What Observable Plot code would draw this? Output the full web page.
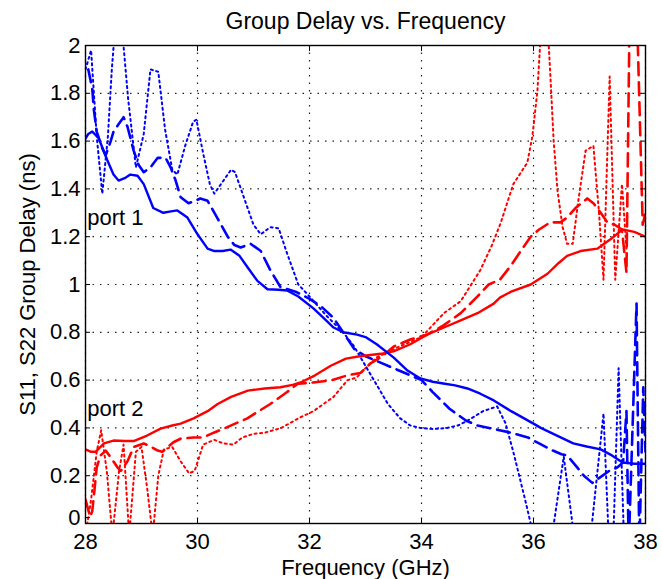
<!DOCTYPE html>
<html><head><meta charset="utf-8">
<script src="https://cdn.jsdelivr.net/npm/d3@7"></script>
<script src="https://cdn.jsdelivr.net/npm/@observablehq/plot@0.6"></script>
<style>body{margin:0;background:#fff}</style>
</head><body><div id="chart"></div>
<script>
const xTicks = [28, 30, 32, 34, 36, 38];
const yTicks = [0, 0.2, 0.4, 0.6, 0.8, 1, 1.2, 1.4, 1.6, 1.8, 2];
const titleText = "Group Delay vs. Frequency";
const xLabel = "Frequency (GHz)";
const yLabel = "S11, S22 Group Delay (ns)";
const portLabels = ["port 1", "port 2"];
const portFreq = [28.03, 28.03];
const portDelay = [1.28, 0.48];

// [frequency GHz, group delay ns]
const blueSolid = [[28.0,1.61],[28.05,1.63],[28.12,1.64],[28.23,1.615],[28.39,1.52],[28.5,1.46],[28.59,1.435],[28.7,1.445],[28.8,1.46],[28.93,1.455],[29.04,1.42],[29.21,1.32],[29.39,1.30],[29.5,1.305],[29.64,1.31],[29.82,1.28],[30.0,1.21],[30.18,1.15],[30.3,1.14],[30.45,1.14],[30.59,1.146],[30.75,1.12],[30.9,1.07],[31.07,1.015],[31.25,0.98],[31.45,0.978],[31.6,0.975],[31.8,0.95],[32.07,0.90],[32.25,0.86],[32.43,0.82],[32.6,0.80],[32.85,0.79],[33.0,0.78],[33.2,0.75],[33.5,0.695],[33.75,0.64],[33.98,0.607],[34.2,0.593],[34.39,0.586],[34.6,0.578],[34.82,0.565],[35.05,0.543],[35.29,0.515],[35.6,0.47],[36.0,0.418],[36.13,0.40],[36.4,0.37],[36.71,0.335],[36.95,0.322],[37.2,0.31],[37.4,0.285],[37.59,0.255],[37.8,0.25],[38.0,0.25]];
const blueDashed = [[28.05,1.9],[28.12,1.82],[28.15,1.73],[28.2,1.64],[28.3,1.57],[28.36,1.54],[28.45,1.60],[28.5,1.64],[28.59,1.67],[28.68,1.70],[28.75,1.66],[28.86,1.56],[28.95,1.50],[29.04,1.47],[29.16,1.49],[29.29,1.53],[29.43,1.53],[29.52,1.49],[29.61,1.435],[29.7,1.365],[29.84,1.34],[29.96,1.35],[30.05,1.36],[30.18,1.35],[30.35,1.28],[30.54,1.20],[30.66,1.165],[30.77,1.155],[30.95,1.17],[31.13,1.14],[31.3,1.06],[31.48,0.99],[31.75,0.97],[32.0,0.94],[32.2,0.91],[32.43,0.86],[32.6,0.80],[32.8,0.73],[33.0,0.70],[33.3,0.67],[33.5,0.65],[33.8,0.62],[34.0,0.60],[34.2,0.55],[34.5,0.48],[34.8,0.43],[35.0,0.41],[35.3,0.395],[35.6,0.38],[35.9,0.36],[36.1,0.335],[36.3,0.31],[36.5,0.29],[36.6,0.285],[36.78,0.235],[36.9,0.20],[37.05,0.17],[37.17,0.19],[37.35,0.22],[37.5,0.235],[37.6,0.255],[37.66,0.47],[37.7,-0.1],[37.84,0.92],[37.89,-0.1],[37.96,0.57],[38.0,0.3]];
const blueDotted = [[28.0,1.9],[28.1,1.98],[28.2,1.62],[28.3,1.38],[28.4,1.62],[28.47,1.9],[28.52,2.05],[28.66,2.05],[28.76,1.78],[28.9,1.49],[29.04,1.63],[29.16,1.90],[29.3,1.89],[29.42,1.65],[29.55,1.48],[29.64,1.46],[29.78,1.58],[29.92,1.68],[29.98,1.69],[30.1,1.55],[30.22,1.42],[30.3,1.38],[30.45,1.43],[30.6,1.48],[30.67,1.47],[30.85,1.35],[31.0,1.25],[31.13,1.21],[31.3,1.24],[31.45,1.235],[31.6,1.13],[31.8,1.0],[32.0,0.95],[32.3,0.87],[32.6,0.80],[32.8,0.74],[33.0,0.66],[33.2,0.58],[33.4,0.50],[33.62,0.44],[33.8,0.41],[33.98,0.40],[34.2,0.395],[34.46,0.40],[34.65,0.41],[34.82,0.43],[35.1,0.47],[35.35,0.49],[35.5,0.42],[35.65,0.29],[35.85,0.10],[36.0,-0.05],[36.3,-0.1],[36.54,0.28],[36.75,-0.1],[37.0,-0.1],[37.25,0.46],[37.35,-0.1],[37.42,-0.1],[37.52,0.65],[37.62,-0.1]];
const redSolid = [[28.0,0.31],[28.1,0.30],[28.18,0.30],[28.33,0.335],[28.5,0.347],[28.7,0.345],[28.86,0.345],[29.1,0.368],[29.34,0.397],[29.55,0.41],[29.7,0.418],[29.93,0.44],[30.18,0.47],[30.36,0.50],[30.6,0.53],[30.9,0.556],[31.2,0.565],[31.48,0.57],[31.7,0.58],[31.84,0.59],[32.1,0.62],[32.38,0.66],[32.65,0.69],[32.9,0.70],[33.27,0.71],[33.5,0.72],[33.8,0.75],[34.1,0.79],[34.4,0.82],[34.7,0.85],[35.0,0.88],[35.29,0.92],[35.4,0.945],[35.6,0.97],[35.95,1.0],[36.25,1.045],[36.45,1.09],[36.6,1.12],[36.84,1.14],[37.14,1.15],[37.38,1.19],[37.59,1.23],[37.8,1.22],[38.0,1.20]];
const redDashed = [[28.0,0.10],[28.08,0.03],[28.12,0.05],[28.16,0.14],[28.2,0.235],[28.27,0.285],[28.36,0.305],[28.45,0.277],[28.57,0.235],[28.63,0.22],[28.75,0.26],[28.86,0.32],[29.04,0.335],[29.18,0.32],[29.29,0.305],[29.37,0.30],[29.57,0.34],[29.7,0.355],[29.93,0.36],[30.1,0.36],[30.29,0.38],[30.5,0.40],[30.89,0.44],[31.3,0.50],[31.6,0.55],[31.79,0.585],[32.07,0.59],[32.4,0.60],[32.68,0.62],[32.91,0.63],[33.09,0.67],[33.3,0.70],[33.5,0.74],[33.8,0.77],[34.1,0.79],[34.4,0.83],[34.7,0.88],[35.0,0.95],[35.2,1.0],[35.4,1.02],[35.6,1.08],[35.8,1.15],[35.95,1.2],[36.1,1.23],[36.3,1.26],[36.48,1.26],[36.6,1.28],[36.75,1.32],[36.96,1.36],[37.07,1.34],[37.2,1.30],[37.32,1.26],[37.45,1.25],[37.58,1.23],[37.66,1.05],[37.72,2.2],[37.84,2.2],[37.95,1.25],[38.0,1.3]];
const redDotted = [[28.0,-0.05],[28.1,0.10],[28.2,0.30],[28.28,0.39],[28.38,0.22],[28.48,-0.05],[28.6,0.22],[28.68,0.33],[28.78,-0.05],[28.9,0.30],[29.0,0.32],[29.1,0.15],[29.2,-0.05],[29.3,0.20],[29.4,0.31],[29.55,0.32],[29.7,0.26],[29.85,0.21],[29.95,0.22],[30.1,0.33],[30.3,0.35],[30.46,0.335],[30.64,0.33],[30.8,0.36],[31.0,0.375],[31.2,0.38],[31.5,0.40],[31.8,0.44],[32.07,0.47],[32.43,0.53],[32.68,0.60],[32.84,0.61],[33.0,0.65],[33.2,0.695],[33.6,0.74],[34.0,0.78],[34.4,0.88],[34.7,0.93],[35.05,1.06],[35.25,1.16],[35.41,1.255],[35.64,1.42],[35.89,1.51],[35.98,1.62],[36.07,1.81],[36.13,2.05],[36.26,2.05],[36.3,1.88],[36.36,1.60],[36.43,1.39],[36.52,1.24],[36.6,1.17],[36.7,1.17],[36.8,1.35],[36.93,1.56],[37.07,1.58],[37.17,1.30],[37.25,1.02],[37.36,1.87],[37.46,1.02],[37.58,1.42],[37.66,1.15]];

const BLUE = "#0000ff", RED = "#ff0000";
const FONT = 22;
const line = (data, stroke, dash, width) => Plot.line(data, {
  x: d => d[0], y: d => d[1], stroke, strokeWidth: width,
  strokeDasharray: dash, clip: true, curve: "linear"
});
const yFmt = d3.format("~g");

const chart = Plot.plot({
  width: 662, height: 579,
  marginLeft: 85, marginRight: 17, marginTop: 45, marginBottom: 56,
  style: {fontFamily: "'Liberation Sans', Arial, Helvetica, sans-serif", fontSize: FONT + "px", color: "#000", background: "#fff"},
  x: {domain: [28, 38]},
  y: {domain: [0, 2]},
  marks: [
    Plot.gridX(xTicks, {stroke: "#222", strokeOpacity: 1, strokeWidth: 1.2, strokeDasharray: "1.5,6"}),
    Plot.gridY(yTicks, {stroke: "#222", strokeOpacity: 1, strokeWidth: 1.2, strokeDasharray: "1.5,6"}),
    line(redDotted, RED, "2,3.5", 2),
    line(blueDotted, BLUE, "2,3.5", 2),
    line(redDashed, RED, "13,7", 2.6),
    line(blueDashed, BLUE, "13,7", 2.6),
    line(redSolid, RED, null, 2.4),
    line(blueSolid, BLUE, null, 2.4),
    Plot.frame({stroke: "#000", strokeWidth: 1.4}),
    Plot.axisX(xTicks, {anchor: "bottom", tickSize: -5, tickPadding: 15, fontSize: FONT, label: null}),
    Plot.axisX(xTicks, {anchor: "top", tickSize: -5, tickFormat: () => "", label: null}),
    Plot.axisY(yTicks.filter(t => t > 0), {anchor: "left", tickSize: -5, tickPadding: 10, fontSize: FONT, tickFormat: yFmt, label: null}),
    Plot.axisY(yTicks.filter(t => t === 0), {anchor: "left", tickSize: -5, tickPadding: 10, dy: -6, fontSize: FONT, tickFormat: yFmt, label: null}),
    Plot.axisY(yTicks, {anchor: "right", tickSize: -5, tickFormat: () => "", label: null}),
    Plot.text(portLabels, {x: (d, i) => portFreq[i], y: (d, i) => portDelay[i], textAnchor: "start", fontSize: FONT, fill: "#000"}),
    Plot.text([titleText], {frameAnchor: "top", dy: -33, fontSize: FONT + 1, fill: "#000"}),
    Plot.text([xLabel], {frameAnchor: "bottom", dy: 51, fontSize: FONT, fill: "#000"}),
    Plot.text([yLabel], {frameAnchor: "left", dx: -58, rotate: -90, textAnchor: "middle", fontSize: FONT, fill: "#000"})
  ]
});
document.getElementById("chart").appendChild(chart);
</script>
</body></html>
